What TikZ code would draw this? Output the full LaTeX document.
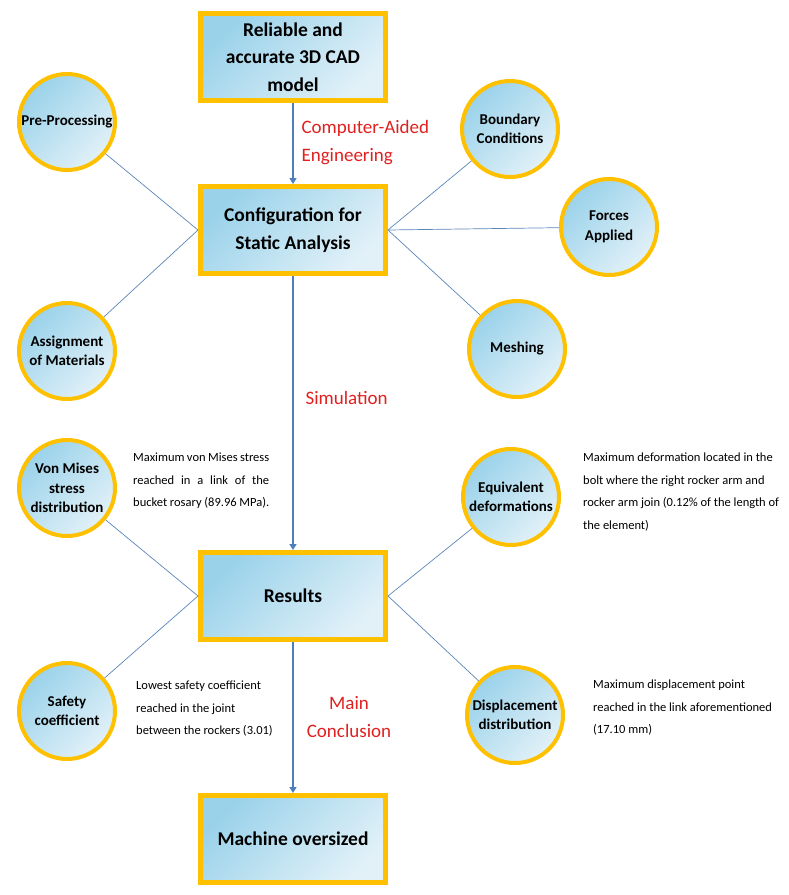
\documentclass[tikz,border=0pt]{standalone}
\usepackage{fontspec}
\setmainfont{Carlito}
\usetikzlibrary{arrows.meta}
\definecolor{rimorange}{HTML}{FFC000}
\definecolor{skydark}{HTML}{9AD2EA}
\definecolor{skylight}{HTML}{E2F1F8}
\definecolor{linkblue}{HTML}{5A86B8}
\definecolor{arrowblue}{HTML}{4F7FBA}
\definecolor{labelred}{HTML}{E0201E}
\begin{document}
\begin{tikzpicture}[x=1pt,y=-1pt]
\tikzset{
  fillsky/.style={top color=skydark, bottom color=skylight, shading angle=45},
  stage/.style={draw=rimorange, line width=5pt, fillsky, minimum width=185pt,
    minimum height=87pt, align=center, font=\fontsize{19.5}{27.5}\selectfont\bfseries},
  topic/.style={circle, draw=rimorange, line width=4pt, fillsky, minimum size=96pt,
    inner sep=0pt, align=center, font=\fontsize{15}{19.5}\selectfont\bfseries},
  flow/.style={draw=arrowblue, line width=2.2pt, -{Triangle[length=6pt,width=7pt]}},
  link/.style={draw=linkblue, line width=0.7pt},
  steplbl/.style={text=labelred, align=left, font=\fontsize{19}{28}\selectfont},
  note/.style={align=left, inner sep=0pt, font=\fontsize{12.5}{22.5}\selectfont},
}
\useasboundingbox (0,0) rectangle (789,895);

%% main stages
\node[stage] (cad) at (293,57) {Reliable and\\accurate 3D CAD\\model};
\node[stage] (config) at (293,230) {Configuration for\\Static Analysis};
\node[stage] (results) at (293,596) {Results};
\node[stage] (machine) at (293,839) {Machine oversized};

%% flow arrows
\draw[flow] (cad) -- (config);
\draw[flow] (config) -- (results);
\draw[flow] (results) -- (machine);

%% step labels
\node[steplbl, anchor=west] (cae) at (298,143) {Computer-Aided\\Engineering};
\node[steplbl, anchor=west] (sim) at (302,398) {Simulation};
\node[steplbl, align=center] (concl) at (349,717) {Main\\Conclusion};

%% pre-processing topics
\node[topic] (prep) at (67,122) {Pre-Processing};
\node[topic] (assign) at (67,351) {Assignment\\of Materials};
\node[topic] (bound) at (510,129) {Boundary\\Conditions};
\node[topic] (forces) at (609,227) {Forces\\Applied};
\node[topic] (mesh) at (517,349) {Meshing};

\draw[link] (prep) -- (config.west);
\draw[link] (assign) -- (config.west);
\draw[link] (bound) -- (config.east);
\draw[link] (forces) -- (config.east);
\draw[link] (mesh) -- (config.east);

%% result topics
\node[topic] (vonmises) at (67,488) {Von Mises\\stress\\distribution};
\node[topic] (safety) at (67,711) {Safety\\coefficient};
\node[topic] (equiv) at (511,497) {Equivalent\\deformations};
\node[topic] (displ) at (515,715) {Displacement\\distribution};

\draw[link] (vonmises) -- (results.west);
\draw[link] (safety) -- (results.west);
\draw[link] (equiv) -- (results.east);
\draw[link] (displ) -- (results.east);

%% notes
\node[note, anchor=north west, text width=136pt, align=justify] (vmnote) at (133,453)
  {Maximum von Mises stress\linebreak reached in a link of the\linebreak bucket rosary (89.96 MPa).};
\node[note, anchor=north west] (sfnote) at (136,681)
  {Lowest safety coefficient\\reached in the joint\\between the rockers (3.01)};
\node[note, anchor=north west] (eqnote) at (583,453)
  {Maximum deformation located in the\\bolt where the right rocker arm and\\rocker arm join (0.12\% of the length of\\the element)};
\node[note, anchor=north west] (dpnote) at (593,680)
  {Maximum displacement point\\reached in the link aforementioned\\(17.10 mm)};
\end{tikzpicture}
\end{document}
